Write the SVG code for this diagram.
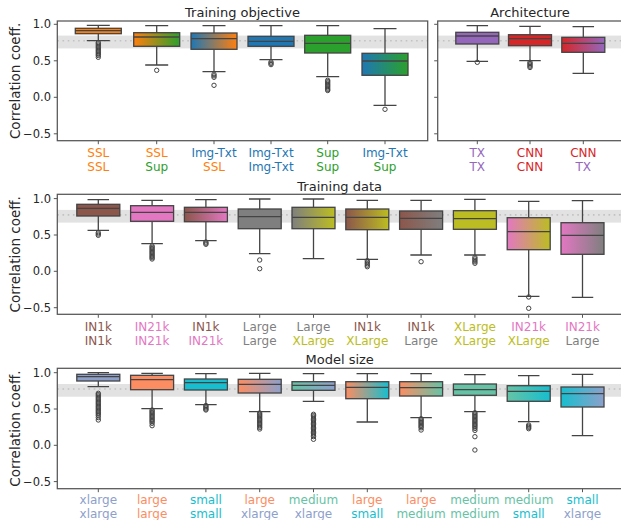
<svg xmlns="http://www.w3.org/2000/svg" width="621" height="520" viewBox="0 0 621 520">
<style>
text{font-family:"DejaVu Sans","Liberation Sans",sans-serif;fill:#262626}
.t{font-size:13px;text-anchor:middle}
.yl{font-size:13.5px;text-anchor:middle}
.yt{font-size:11.5px;text-anchor:end}
.xl{font-size:12px;text-anchor:middle}
.ax{fill:none;stroke:#555;stroke-width:1.25}
.tk{stroke:#555;stroke-width:1}
.band{fill:#e2e2e2}
.ref{stroke:#c2c2c2;stroke-width:1.6;stroke-dasharray:1.6 3.6}
.w{fill:none;stroke:#444;stroke-width:1.3}
.bx{stroke:#444;stroke-width:1.3}
.o{fill:none;stroke:#444;stroke-width:1}
</style>
<defs>
<linearGradient id="g-ssl-sup"><stop offset="0" stop-color="#ff7f0e"/><stop offset="1" stop-color="#2ca02c"/></linearGradient>
<linearGradient id="g-it-ssl"><stop offset="0" stop-color="#1f77b4"/><stop offset="1" stop-color="#ff7f0e"/></linearGradient>
<linearGradient id="g-it-sup"><stop offset="0" stop-color="#1f77b4"/><stop offset="1" stop-color="#2ca02c"/></linearGradient>
<linearGradient id="g-cnn-tx"><stop offset="0" stop-color="#d62728"/><stop offset="1" stop-color="#9467bd"/></linearGradient>
<linearGradient id="g-1k-21k"><stop offset="0" stop-color="#8c564b"/><stop offset="1" stop-color="#e377c2"/></linearGradient>
<linearGradient id="g-l-xl"><stop offset="0" stop-color="#7f7f7f"/><stop offset="1" stop-color="#bcbd22"/></linearGradient>
<linearGradient id="g-1k-xl"><stop offset="0" stop-color="#8c564b"/><stop offset="1" stop-color="#bcbd22"/></linearGradient>
<linearGradient id="g-1k-l"><stop offset="0" stop-color="#8c564b"/><stop offset="1" stop-color="#7f7f7f"/></linearGradient>
<linearGradient id="g-21k-xl"><stop offset="0" stop-color="#e377c2"/><stop offset="1" stop-color="#bcbd22"/></linearGradient>
<linearGradient id="g-21k-l"><stop offset="0" stop-color="#e377c2"/><stop offset="1" stop-color="#7f7f7f"/></linearGradient>
<linearGradient id="g-lg-xlg"><stop offset="0" stop-color="#fc8d62"/><stop offset="1" stop-color="#8da0cb"/></linearGradient>
<linearGradient id="g-md-xlg"><stop offset="0" stop-color="#66c2a5"/><stop offset="1" stop-color="#8da0cb"/></linearGradient>
<linearGradient id="g-lg-sm"><stop offset="0" stop-color="#fc8d62"/><stop offset="1" stop-color="#17becf"/></linearGradient>
<linearGradient id="g-lg-md"><stop offset="0" stop-color="#fc8d62"/><stop offset="1" stop-color="#66c2a5"/></linearGradient>
<linearGradient id="g-md-sm"><stop offset="0" stop-color="#66c2a5"/><stop offset="1" stop-color="#17becf"/></linearGradient>
<linearGradient id="g-sm-xlg"><stop offset="0" stop-color="#17becf"/><stop offset="1" stop-color="#8da0cb"/></linearGradient>
</defs>

<g id="bands">
<rect class="band" x="57.3" y="35.6" width="370.4" height="12.8"/>
<line class="ref" x1="57.3" y1="40.7" x2="427.7" y2="40.7"/>
<rect class="band" x="437.7" y="35.6" width="184" height="12.8"/>
<line class="ref" x1="437.7" y1="40.7" x2="621" y2="40.7"/>
<rect class="band" x="57.3" y="209.9" width="564" height="12.7"/>
<line class="ref" x1="57.3" y1="214.9" x2="621" y2="214.9"/>
<rect class="band" x="57.3" y="384" width="564" height="12.7"/>
<line class="ref" x1="57.3" y1="389" x2="621" y2="389"/>
</g>

<g id="titles">
<text class="t" x="242.5" y="16.7">Training objective</text>
<text class="t" x="530" y="16.7">Architecture</text>
<text class="t" x="339.7" y="190.7">Training data</text>
<text class="t" x="339.7" y="364">Model size</text>
<text class="yl" transform="translate(19.5 80.9) rotate(-90)">Correlation coeff.</text>
<text class="yl" transform="translate(19.5 254.3) rotate(-90)">Correlation coeff.</text>
<text class="yl" transform="translate(19.5 428.5) rotate(-90)">Correlation coeff.</text>
</g>

<g id="yticks">
<path class="tk" d="M53.8 24.3H57.3M53.8 60.8H57.3M53.8 97.3H57.3M53.8 133.8H57.3M434.2 24.3H437.7M434.2 60.8H437.7M434.2 97.3H437.7M434.2 133.8H437.7M53.8 198.6H57.3M53.8 235H57.3M53.8 271.3H57.3M53.8 307.7H57.3M53.8 372.7H57.3M53.8 409H57.3M53.8 445.3H57.3M53.8 481.6H57.3"/>
<text class="yt" x="51" y="28.4">1.0</text>
<text class="yt" x="51" y="64.9">0.5</text>
<text class="yt" x="51" y="101.4">0.0</text>
<text class="yt" x="51" y="137.9">−0.5</text>
<text class="yt" x="51" y="202.7">1.0</text>
<text class="yt" x="51" y="239.1">0.5</text>
<text class="yt" x="51" y="275.4">0.0</text>
<text class="yt" x="51" y="311.8">−0.5</text>
<text class="yt" x="51" y="376.8">1.0</text>
<text class="yt" x="51" y="413.1">0.5</text>
<text class="yt" x="51" y="449.4">0.0</text>
<text class="yt" x="51" y="485.7">−0.5</text>
</g>

<g id="xticks">
<path class="tk" d="M98.3 140.7v3.5M156.7 140.7v3.5M214 140.7v3.5M271 140.7v3.5M327.7 140.7v3.5M385 140.7v3.5M477.3 140.7v3.5M530 140.7v3.5M583.3 140.7v3.5"/>
<path class="tk" d="M98.3 314.3v3.5M152.1 314.3v3.5M205.9 314.3v3.5M259.7 314.3v3.5M313.5 314.3v3.5M367.3 314.3v3.5M421.1 314.3v3.5M474.9 314.3v3.5M528.7 314.3v3.5M582.5 314.3v3.5"/>
<path class="tk" d="M98.3 488.7v3.5M152.1 488.7v3.5M205.9 488.7v3.5M259.7 488.7v3.5M313.5 488.7v3.5M367.3 488.7v3.5M421.1 488.7v3.5M474.9 488.7v3.5M528.7 488.7v3.5M582.5 488.7v3.5"/>
</g>

<g id="xlabels">
<text class="xl" x="98.3" y="156.5" style="fill:#ff7f0e">SSL</text><text class="xl" x="98.3" y="170.5" style="fill:#ff7f0e">SSL</text>
<text class="xl" x="156.7" y="156.5" style="fill:#ff7f0e">SSL</text><text class="xl" x="156.7" y="170.5" style="fill:#2ca02c">Sup</text>
<text class="xl" x="214" y="156.5" style="fill:#1f77b4">Img-Txt</text><text class="xl" x="214" y="170.5" style="fill:#ff7f0e">SSL</text>
<text class="xl" x="271" y="156.5" style="fill:#1f77b4">Img-Txt</text><text class="xl" x="271" y="170.5" style="fill:#1f77b4">Img-Txt</text>
<text class="xl" x="327.7" y="156.5" style="fill:#2ca02c">Sup</text><text class="xl" x="327.7" y="170.5" style="fill:#2ca02c">Sup</text>
<text class="xl" x="385" y="156.5" style="fill:#1f77b4">Img-Txt</text><text class="xl" x="385" y="170.5" style="fill:#2ca02c">Sup</text>
<text class="xl" x="477.3" y="156.5" style="fill:#9467bd">TX</text><text class="xl" x="477.3" y="170.5" style="fill:#9467bd">TX</text>
<text class="xl" x="530" y="156.5" style="fill:#d62728">CNN</text><text class="xl" x="530" y="170.5" style="fill:#d62728">CNN</text>
<text class="xl" x="583.3" y="156.5" style="fill:#d62728">CNN</text><text class="xl" x="583.3" y="170.5" style="fill:#9467bd">TX</text>

<text class="xl" x="98.3" y="330.5" style="fill:#8c564b">IN1k</text><text class="xl" x="98.3" y="344.5" style="fill:#8c564b">IN1k</text>
<text class="xl" x="152.1" y="330.5" style="fill:#e377c2">IN21k</text><text class="xl" x="152.1" y="344.5" style="fill:#e377c2">IN21k</text>
<text class="xl" x="205.9" y="330.5" style="fill:#8c564b">IN1k</text><text class="xl" x="205.9" y="344.5" style="fill:#e377c2">IN21k</text>
<text class="xl" x="259.7" y="330.5" style="fill:#7f7f7f">Large</text><text class="xl" x="259.7" y="344.5" style="fill:#7f7f7f">Large</text>
<text class="xl" x="313.5" y="330.5" style="fill:#7f7f7f">Large</text><text class="xl" x="313.5" y="344.5" style="fill:#bcbd22">XLarge</text>
<text class="xl" x="367.3" y="330.5" style="fill:#8c564b">IN1k</text><text class="xl" x="367.3" y="344.5" style="fill:#bcbd22">XLarge</text>
<text class="xl" x="421.1" y="330.5" style="fill:#8c564b">IN1k</text><text class="xl" x="421.1" y="344.5" style="fill:#7f7f7f">Large</text>
<text class="xl" x="474.9" y="330.5" style="fill:#bcbd22">XLarge</text><text class="xl" x="474.9" y="344.5" style="fill:#bcbd22">XLarge</text>
<text class="xl" x="528.7" y="330.5" style="fill:#e377c2">IN21k</text><text class="xl" x="528.7" y="344.5" style="fill:#bcbd22">XLarge</text>
<text class="xl" x="582.5" y="330.5" style="fill:#e377c2">IN21k</text><text class="xl" x="582.5" y="344.5" style="fill:#7f7f7f">Large</text>

<text class="xl" x="98.3" y="503.5" style="fill:#8da0cb">xlarge</text><text class="xl" x="98.3" y="517.5" style="fill:#8da0cb">xlarge</text>
<text class="xl" x="152.1" y="503.5" style="fill:#fc8d62">large</text><text class="xl" x="152.1" y="517.5" style="fill:#fc8d62">large</text>
<text class="xl" x="205.9" y="503.5" style="fill:#17becf">small</text><text class="xl" x="205.9" y="517.5" style="fill:#17becf">small</text>
<text class="xl" x="259.7" y="503.5" style="fill:#fc8d62">large</text><text class="xl" x="259.7" y="517.5" style="fill:#8da0cb">xlarge</text>
<text class="xl" x="313.5" y="503.5" style="fill:#66c2a5">medium</text><text class="xl" x="313.5" y="517.5" style="fill:#8da0cb">xlarge</text>
<text class="xl" x="367.3" y="503.5" style="fill:#fc8d62">large</text><text class="xl" x="367.3" y="517.5" style="fill:#17becf">small</text>
<text class="xl" x="421.1" y="503.5" style="fill:#fc8d62">large</text><text class="xl" x="421.1" y="517.5" style="fill:#66c2a5">medium</text>
<text class="xl" x="474.9" y="503.5" style="fill:#66c2a5">medium</text><text class="xl" x="474.9" y="517.5" style="fill:#66c2a5">medium</text>
<text class="xl" x="528.7" y="503.5" style="fill:#66c2a5">medium</text><text class="xl" x="528.7" y="517.5" style="fill:#17becf">small</text>
<text class="xl" x="582.5" y="503.5" style="fill:#17becf">small</text><text class="xl" x="582.5" y="517.5" style="fill:#8da0cb">xlarge</text>
</g>

<g id="obj-ssl-ssl" transform="translate(98.3 0)">
<path class="w" d="M0 28.3V25.3M-11.5 25.3H11.5M0 33.7V40.7M-11.5 40.7H11.5"/>
<rect class="bx" x="-23" y="28.3" width="46" height="5.4" fill="#ff7f0e"/>
<path class="w" d="M-23 30.7H23"/>
<circle class="o" cy="42.5" r="2.2"/><circle class="o" cy="43.8" r="2.2"/><circle class="o" cy="45.1" r="2.2"/><circle class="o" cy="46.4" r="2.2"/><circle class="o" cy="47.7" r="2.2"/><circle class="o" cy="49" r="2.2"/><circle class="o" cy="50.3" r="2.2"/><circle class="o" cy="51.6" r="2.2"/><circle class="o" cy="52.9" r="2.2"/><circle class="o" cy="54.2" r="2.2"/><circle class="o" cy="55.5" r="2.2"/><circle class="o" cy="57.3" r="2.2"/>
</g>
<g id="obj-ssl-sup" transform="translate(156.7 0)">
<path class="w" d="M0 32.7V25.7M-11.5 25.7H11.5M0 46.3V65M-11.5 65H11.5"/>
<rect class="bx" x="-23" y="32.7" width="46" height="13.6" fill="url(#g-ssl-sup)"/>
<path class="w" d="M-23 37H23"/>
<circle class="o" cy="70.3" r="2.2"/>
</g>
<g id="obj-it-ssl" transform="translate(214 0)">
<path class="w" d="M0 33V25.7M-11.5 25.7H11.5M0 49.3V71.7M-11.5 71.7H11.5"/>
<rect class="bx" x="-23" y="33" width="46" height="16.3" fill="url(#g-it-ssl)"/>
<path class="w" d="M-23 38.7H23"/>
<circle class="o" cy="74.3" r="2.2"/><circle class="o" cy="75.8" r="2.2"/><circle class="o" cy="77.3" r="2.2"/><circle class="o" cy="85.3" r="2.2"/>
</g>
<g id="obj-it-it" transform="translate(271 0)">
<path class="w" d="M0 36.3V25.7M-11.5 25.7H11.5M0 46.3V59.7M-11.5 59.7H11.5"/>
<rect class="bx" x="-23" y="36.3" width="46" height="10" fill="#1f77b4"/>
<path class="w" d="M-23 41.3H23"/>
<circle class="o" cy="62" r="2.2"/><circle class="o" cy="63.3" r="2.2"/><circle class="o" cy="64.6" r="2.2"/>
</g>
<g id="obj-sup-sup" transform="translate(327.7 0)">
<path class="w" d="M0 35.3V25.7M-11.5 25.7H11.5M0 53V76.7M-11.5 76.7H11.5"/>
<rect class="bx" x="-23" y="35.3" width="46" height="17.7" fill="#2ca02c"/>
<path class="w" d="M-23 43.3H23"/>
<circle class="o" cy="80.3" r="2.2"/><circle class="o" cy="81.6" r="2.2"/><circle class="o" cy="82.9" r="2.2"/><circle class="o" cy="84.2" r="2.2"/><circle class="o" cy="85.5" r="2.2"/><circle class="o" cy="86.8" r="2.2"/><circle class="o" cy="88.1" r="2.2"/><circle class="o" cy="89.4" r="2.2"/><circle class="o" cy="90.5" r="2.2"/>
</g>
<g id="obj-it-sup" transform="translate(385 0)">
<path class="w" d="M0 53.3V28.7M-11.5 28.7H11.5M0 75.3V105.3M-11.5 105.3H11.5"/>
<rect class="bx" x="-23" y="53.3" width="46" height="22" fill="url(#g-it-sup)"/>
<path class="w" d="M-23 61H23"/>
<circle class="o" cy="109.3" r="2.2"/>
</g>

<g id="arch-tx-tx" transform="translate(477.3 0)">
<path class="w" d="M0 32.3V25.7M-10.75 25.7H10.75M0 44V61.3M-10.75 61.3H10.75"/>
<rect class="bx" x="-21.5" y="32.3" width="43" height="11.7" fill="#9467bd"/>
<path class="w" d="M-21.5 36H21.5"/>
<circle class="o" cy="62.3" r="2.2"/>
</g>
<g id="arch-cnn-cnn" transform="translate(530 0)">
<path class="w" d="M0 34.7V26.3M-10.75 26.3H10.75M0 45.7V60.7M-10.75 60.7H10.75"/>
<rect class="bx" x="-21.5" y="34.7" width="43" height="11" fill="#d62728"/>
<path class="w" d="M-21.5 38.7H21.5"/>
<circle class="o" cy="62.3" r="2.2"/><circle class="o" cy="63.6" r="2.2"/><circle class="o" cy="64.9" r="2.2"/><circle class="o" cy="66.2" r="2.2"/><circle class="o" cy="67.5" r="2.2"/>
</g>
<g id="arch-cnn-tx" transform="translate(583.3 0)">
<path class="w" d="M0 37.3V26.7M-10.75 26.7H10.75M0 52.3V73.3M-10.75 73.3H10.75"/>
<rect class="bx" x="-21.5" y="37.3" width="43" height="15" fill="url(#g-cnn-tx)"/>
<path class="w" d="M-21.5 43.3H21.5"/>
</g>

<g id="data-1k-1k" transform="translate(98.3 0)">
<path class="w" d="M0 204.3V199.7M-10.75 199.7H10.75M0 216V230.3M-10.75 230.3H10.75"/>
<rect class="bx" x="-21.5" y="204.3" width="43" height="11.7" fill="#8c564b"/>
<path class="w" d="M-21.5 208.3H21.5"/>
<circle class="o" cy="232.7" r="2.2"/><circle class="o" cy="234" r="2.2"/><circle class="o" cy="235.3" r="2.2"/>
</g>
<g id="data-21k-21k" transform="translate(152.1 0)">
<path class="w" d="M0 205.7V200.3M-10.75 200.3H10.75M0 221.3V243.7M-10.75 243.7H10.75"/>
<rect class="bx" x="-21.5" y="205.7" width="43" height="15.6" fill="#e377c2"/>
<path class="w" d="M-21.5 212.3H21.5"/>
<circle class="o" cy="246" r="2.2"/><circle class="o" cy="247.3" r="2.2"/><circle class="o" cy="248.6" r="2.2"/><circle class="o" cy="249.9" r="2.2"/><circle class="o" cy="251.2" r="2.2"/><circle class="o" cy="252.5" r="2.2"/><circle class="o" cy="253.8" r="2.2"/><circle class="o" cy="255.1" r="2.2"/><circle class="o" cy="256.4" r="2.2"/><circle class="o" cy="257.7" r="2.2"/><circle class="o" cy="259" r="2.2"/>
</g>
<g id="data-1k-21k" transform="translate(205.9 0)">
<path class="w" d="M0 207.3V199.7M-10.75 199.7H10.75M0 221.7V240.7M-10.75 240.7H10.75"/>
<rect class="bx" x="-21.5" y="207.3" width="43" height="14.4" fill="url(#g-1k-21k)"/>
<path class="w" d="M-21.5 212.3H21.5"/>
<circle class="o" cy="242" r="2.2"/><circle class="o" cy="243.2" r="2.2"/><circle class="o" cy="244.3" r="2.2"/>
</g>
<g id="data-l-l" transform="translate(259.7 0)">
<path class="w" d="M0 209V199M-10.75 199H10.75M0 228.7V253.7M-10.75 253.7H10.75"/>
<rect class="bx" x="-21.5" y="209" width="43" height="19.7" fill="#7f7f7f"/>
<path class="w" d="M-21.5 216.7H21.5"/>
<circle class="o" cy="260" r="2.2"/><circle class="o" cy="268.7" r="2.2"/>
</g>
<g id="data-l-xl" transform="translate(313.5 0)">
<path class="w" d="M0 207.3V199M-10.75 199H10.75M0 228.7V258.7M-10.75 258.7H10.75"/>
<rect class="bx" x="-21.5" y="207.3" width="43" height="21.4" fill="url(#g-l-xl)"/>
<path class="w" d="M-21.5 217.3H21.5"/>
</g>
<g id="data-1k-xl" transform="translate(367.3 0)">
<path class="w" d="M0 209V200.3M-10.75 200.3H10.75M0 229.7V259.3M-10.75 259.3H10.75"/>
<rect class="bx" x="-21.5" y="209" width="43" height="20.7" fill="url(#g-1k-xl)"/>
<path class="w" d="M-21.5 217.3H21.5"/>
<circle class="o" cy="260.7" r="2.2"/><circle class="o" cy="262.2" r="2.2"/><circle class="o" cy="263.7" r="2.2"/><circle class="o" cy="265.2" r="2.2"/><circle class="o" cy="266.7" r="2.2"/>
</g>
<g id="data-1k-l" transform="translate(421.1 0)">
<path class="w" d="M0 211V200.3M-10.75 200.3H10.75M0 229.3V255M-10.75 255H10.75"/>
<rect class="bx" x="-21.5" y="211" width="43" height="18.3" fill="url(#g-1k-l)"/>
<path class="w" d="M-21.5 218.3H21.5"/>
<circle class="o" cy="261.7" r="2.2"/>
</g>
<g id="data-xl-xl" transform="translate(474.9 0)">
<path class="w" d="M0 210.7V199.3M-10.75 199.3H10.75M0 229.3V255M-10.75 255H10.75"/>
<rect class="bx" x="-21.5" y="210.7" width="43" height="18.6" fill="#bcbd22"/>
<path class="w" d="M-21.5 218.7H21.5"/>
<circle class="o" cy="257.3" r="2.2"/><circle class="o" cy="258.8" r="2.2"/><circle class="o" cy="260.3" r="2.2"/><circle class="o" cy="261.8" r="2.2"/><circle class="o" cy="263.3" r="2.2"/>
</g>
<g id="data-21k-xl" transform="translate(528.7 0)">
<path class="w" d="M0 217.7V201.3M-10.75 201.3H10.75M0 249.7V296.3M-10.75 296.3H10.75"/>
<rect class="bx" x="-21.5" y="217.7" width="43" height="32" fill="url(#g-21k-xl)"/>
<path class="w" d="M-21.5 231.7H21.5"/>
<circle class="o" cy="297" r="2.2"/><circle class="o" cy="308.3" r="2.2"/>
</g>
<g id="data-21k-l" transform="translate(582.5 0)">
<path class="w" d="M0 222.7V200.7M-10.75 200.7H10.75M0 254.3V297.3M-10.75 297.3H10.75"/>
<rect class="bx" x="-21.5" y="222.7" width="43" height="31.6" fill="url(#g-21k-l)"/>
<path class="w" d="M-21.5 235.3H21.5"/>
</g>

<g id="size-xlg-xlg" transform="translate(98.3 0)">
<path class="w" d="M0 374.3V372.7M-10.75 372.7H10.75M0 381V386.7M-10.75 386.7H10.75"/>
<rect class="bx" x="-21.5" y="374.3" width="43" height="6.7" fill="#8da0cb"/>
<path class="w" d="M-21.5 376.7H21.5"/>
<circle class="o" cy="393.3" r="2.2"/><circle class="o" cy="394.6" r="2.2"/><circle class="o" cy="395.9" r="2.2"/><circle class="o" cy="397.2" r="2.2"/><circle class="o" cy="398.5" r="2.2"/><circle class="o" cy="399.8" r="2.2"/><circle class="o" cy="401.1" r="2.2"/><circle class="o" cy="402.4" r="2.2"/><circle class="o" cy="403.7" r="2.2"/><circle class="o" cy="405" r="2.2"/><circle class="o" cy="406.3" r="2.2"/><circle class="o" cy="407.6" r="2.2"/><circle class="o" cy="408.9" r="2.2"/><circle class="o" cy="410.2" r="2.2"/><circle class="o" cy="411.5" r="2.2"/><circle class="o" cy="412.8" r="2.2"/><circle class="o" cy="414.1" r="2.2"/><circle class="o" cy="415.6" r="2.2"/><circle class="o" cy="417.6" r="2.2"/><circle class="o" cy="420" r="2.2"/>
</g>
<g id="size-lg-lg" transform="translate(152.1 0)">
<path class="w" d="M0 375.3V373.3M-10.75 373.3H10.75M0 389.7V408.7M-10.75 408.7H10.75"/>
<rect class="bx" x="-21.5" y="375.3" width="43" height="14.4" fill="#fc8d62"/>
<path class="w" d="M-21.5 379.7H21.5"/>
<circle class="o" cy="410" r="2.2"/><circle class="o" cy="411.3" r="2.2"/><circle class="o" cy="412.6" r="2.2"/><circle class="o" cy="413.9" r="2.2"/><circle class="o" cy="415.2" r="2.2"/><circle class="o" cy="416.5" r="2.2"/><circle class="o" cy="417.8" r="2.2"/><circle class="o" cy="419.1" r="2.2"/><circle class="o" cy="420.4" r="2.2"/><circle class="o" cy="421.7" r="2.2"/><circle class="o" cy="423.3" r="2.2"/><circle class="o" cy="425.7" r="2.2"/>
</g>
<g id="size-sm-sm" transform="translate(205.9 0)">
<path class="w" d="M0 379V373.7M-10.75 373.7H10.75M0 390V404.7M-10.75 404.7H10.75"/>
<rect class="bx" x="-21.5" y="379" width="43" height="11" fill="#17becf"/>
<path class="w" d="M-21.5 382.7H21.5"/>
<circle class="o" cy="405.5" r="2.2"/><circle class="o" cy="406.7" r="2.2"/><circle class="o" cy="407.9" r="2.2"/><circle class="o" cy="409.1" r="2.2"/><circle class="o" cy="410" r="2.2"/>
</g>
<g id="size-lg-xlg" transform="translate(259.7 0)">
<path class="w" d="M0 379.3V373.3M-10.75 373.3H10.75M0 393V411.7M-10.75 411.7H10.75"/>
<rect class="bx" x="-21.5" y="379.3" width="43" height="13.7" fill="url(#g-lg-xlg)"/>
<path class="w" d="M-21.5 384.3H21.5"/>
<circle class="o" cy="413" r="2.2"/><circle class="o" cy="414.3" r="2.2"/><circle class="o" cy="415.6" r="2.2"/><circle class="o" cy="416.9" r="2.2"/><circle class="o" cy="418.2" r="2.2"/><circle class="o" cy="419.5" r="2.2"/><circle class="o" cy="420.8" r="2.2"/><circle class="o" cy="422.1" r="2.2"/><circle class="o" cy="423.4" r="2.2"/><circle class="o" cy="424.7" r="2.2"/><circle class="o" cy="426" r="2.2"/><circle class="o" cy="427.4" r="2.2"/><circle class="o" cy="429" r="2.2"/>
</g>
<g id="size-md-xlg" transform="translate(313.5 0)">
<path class="w" d="M0 381.7V373.7M-10.75 373.7H10.75M0 390.3V401.3M-10.75 401.3H10.75"/>
<rect class="bx" x="-21.5" y="381.7" width="43" height="8.6" fill="url(#g-md-xlg)"/>
<path class="w" d="M-21.5 385.3H21.5"/>
<circle class="o" cy="414.3" r="2.2"/><circle class="o" cy="415.6" r="2.2"/><circle class="o" cy="416.9" r="2.2"/><circle class="o" cy="418.2" r="2.2"/><circle class="o" cy="419.5" r="2.2"/><circle class="o" cy="420.8" r="2.2"/><circle class="o" cy="422.1" r="2.2"/><circle class="o" cy="423.4" r="2.2"/><circle class="o" cy="424.7" r="2.2"/><circle class="o" cy="426" r="2.2"/><circle class="o" cy="427.3" r="2.2"/><circle class="o" cy="428.6" r="2.2"/><circle class="o" cy="429.9" r="2.2"/><circle class="o" cy="431.2" r="2.2"/><circle class="o" cy="432.5" r="2.2"/><circle class="o" cy="433.8" r="2.2"/><circle class="o" cy="435.1" r="2.2"/><circle class="o" cy="436.6" r="2.2"/><circle class="o" cy="439.3" r="2.2"/>
</g>
<g id="size-lg-sm" transform="translate(367.3 0)">
<path class="w" d="M0 381.7V373.7M-10.75 373.7H10.75M0 398.7V422M-10.75 422H10.75"/>
<rect class="bx" x="-21.5" y="381.7" width="43" height="17" fill="url(#g-lg-sm)"/>
<path class="w" d="M-21.5 387.3H21.5"/>
</g>
<g id="size-lg-md" transform="translate(421.1 0)">
<path class="w" d="M0 381.7V373.7M-10.75 373.7H10.75M0 396V417.7M-10.75 417.7H10.75"/>
<rect class="bx" x="-21.5" y="381.7" width="43" height="14.3" fill="url(#g-lg-md)"/>
<path class="w" d="M-21.5 387.7H21.5"/>
<circle class="o" cy="418.7" r="2.2"/><circle class="o" cy="420" r="2.2"/><circle class="o" cy="421.3" r="2.2"/><circle class="o" cy="422.6" r="2.2"/><circle class="o" cy="423.9" r="2.2"/><circle class="o" cy="425.2" r="2.2"/><circle class="o" cy="426.5" r="2.2"/><circle class="o" cy="427.8" r="2.2"/><circle class="o" cy="430" r="2.2"/>
</g>
<g id="size-md-md" transform="translate(474.9 0)">
<path class="w" d="M0 384V374.7M-10.75 374.7H10.75M0 395.3V411.7M-10.75 411.7H10.75"/>
<rect class="bx" x="-21.5" y="384" width="43" height="11.3" fill="#66c2a5"/>
<path class="w" d="M-21.5 389.7H21.5"/>
<circle class="o" cy="412.7" r="2.2"/><circle class="o" cy="414" r="2.2"/><circle class="o" cy="415.3" r="2.2"/><circle class="o" cy="416.6" r="2.2"/><circle class="o" cy="417.9" r="2.2"/><circle class="o" cy="419.2" r="2.2"/><circle class="o" cy="420.5" r="2.2"/><circle class="o" cy="421.8" r="2.2"/><circle class="o" cy="423.1" r="2.2"/><circle class="o" cy="424.4" r="2.2"/><circle class="o" cy="425.7" r="2.2"/><circle class="o" cy="427" r="2.2"/><circle class="o" cy="428.5" r="2.2"/><circle class="o" cy="430.4" r="2.2"/><circle class="o" cy="436.7" r="2.2"/><circle class="o" cy="450" r="2.2"/>
</g>
<g id="size-md-sm" transform="translate(528.7 0)">
<path class="w" d="M0 385.7V375.7M-10.75 375.7H10.75M0 401.3V421.7M-10.75 421.7H10.75"/>
<rect class="bx" x="-21.5" y="385.7" width="43" height="15.6" fill="url(#g-md-sm)"/>
<path class="w" d="M-21.5 391.3H21.5"/>
<circle class="o" cy="425" r="2.2"/><circle class="o" cy="426.2" r="2.2"/><circle class="o" cy="427.4" r="2.2"/><circle class="o" cy="428.7" r="2.2"/>
</g>
<g id="size-sm-xlg" transform="translate(582.5 0)">
<path class="w" d="M0 387V374.3M-10.75 374.3H10.75M0 407V435.7M-10.75 435.7H10.75"/>
<rect class="bx" x="-21.5" y="387" width="43" height="20" fill="url(#g-sm-xlg)"/>
<path class="w" d="M-21.5 393.7H21.5"/>
</g>

<g id="frames">
<rect class="ax" x="57.3" y="21" width="370.4" height="119.7"/>
<rect class="ax" x="437.7" y="21" width="190" height="119.7"/>
<rect class="ax" x="57.3" y="194.3" width="570" height="120"/>
<rect class="ax" x="57.3" y="368.3" width="570" height="120.4"/>
</g>
<g id="connectors"/>
</svg>
